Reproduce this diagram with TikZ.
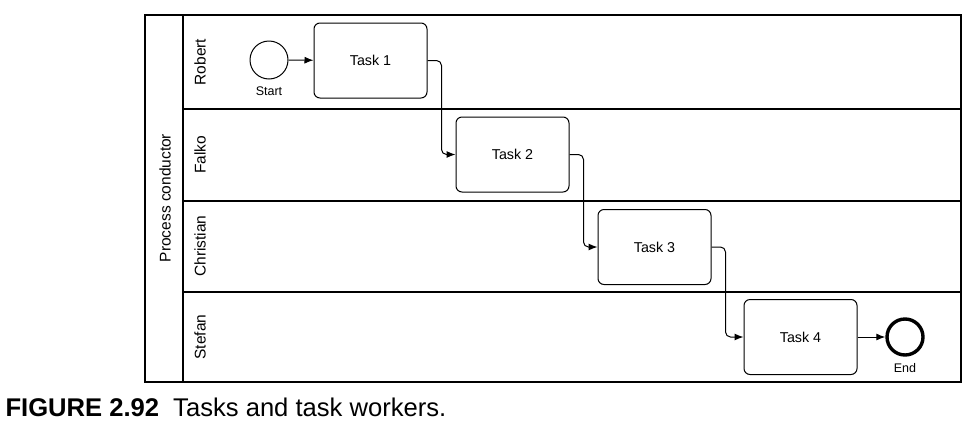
\documentclass[tikz,border=0pt]{standalone}
\usepackage{fontspec}
\setmainfont{Liberation Sans}
\usetikzlibrary{arrows.meta,positioning}
\begin{document}
\begin{tikzpicture}[>={Latex[length=9pt,width=7pt]},x=1pt,y=-1pt,line width=1pt,
		task/.style={draw,rounded corners=6pt,minimum width=113pt,minimum height=75pt,font=\fontsize{14.3}{16}\selectfont},
		event/.style={draw,circle,minimum size=38pt,inner sep=0pt},
		lane/.style={rotate=90,font=\fontsize{15.5}{18}\selectfont}]
		\useasboundingbox (0,0) rectangle (974,429);
		\draw[line width=1.2pt] (145,15) rectangle (961,382);
		\draw[line width=1.2pt] (183,15) -- (183,382);
		\foreach \y in {109,201,292}
		\draw[line width=1.2pt] (183,\y) -- (961,\y);
		\node[lane] (pool) at (165,198) {Process conductor};
		\node[lane] (robert) at (200,62) {Robert};
		\node[lane] (falko) at (200,155) {Falko};
		\node[lane] (christian) at (200,246) {Christian};
		\node[lane] (stefan) at (200,337) {Stefan};
		\node[event] (start) at (269,60) {};
		\node[below=3pt of start,font=\fontsize{12.5}{14}\selectfont] (startl) {Start};
		\node[task] (t1) at (370.5,60.5) {Task 1};
		\node[task] (t2) at (512.5,154.5) {Task 2};
		\node[task] (t3) at (654.5,247) {Task 3};
		\node[task] (t4) at (800.5,337) {Task 4};
		\node[event,line width=3.4pt,minimum size=36pt] (end) at (905,337) {};
		\node[below=3pt of end,font=\fontsize{12.5}{14}\selectfont] (endl) {End};
		\draw[->] (start) -- (t1);
		\draw[->,rounded corners=5pt] (t1.east) -- ++(14,0) |- (t2.west);
		\draw[->,rounded corners=5pt] (t2.east) -- ++(14,0) |- (t3.west);
		\draw[->,rounded corners=5pt] (t3.east) -- ++(14,0) |- (t4.west);
		\draw[->] (t4) -- (end);
		\node[anchor=base west,font=\fontsize{25.6}{28}\selectfont,inner sep=0pt] (caption) at (5,416)
		{\textbf{FIGURE 2.92}\hspace{.55em}Tasks and task workers.};
		\end{tikzpicture}
\end{document}
